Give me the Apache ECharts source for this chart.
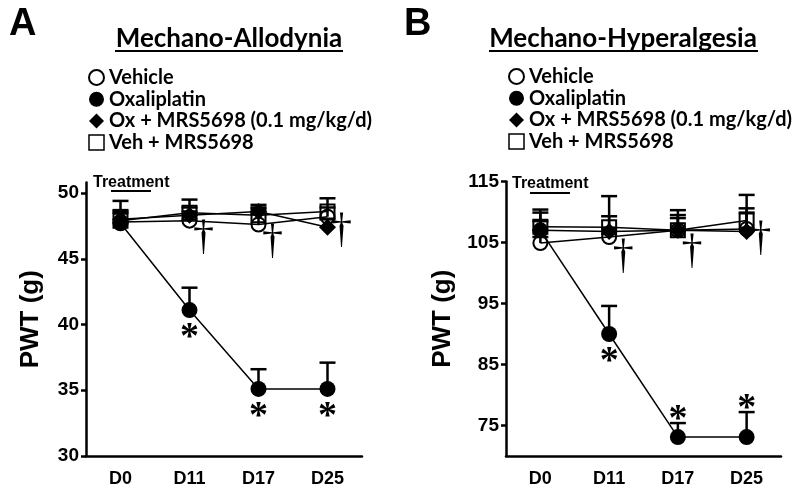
<!DOCTYPE html>
<html><head><meta charset="utf-8">
<script src="https://cdn.jsdelivr.net/npm/echarts@6/dist/echarts.min.js"></script>
<style>html,body{margin:0;padding:0;background:#fff}#c{width:800px;height:495px}</style>
</head><body><div id="c"></div>
<script>
// ---------- data ----------
const categories = ['D0', 'D11', 'D17', 'D25'];
const seriesNames = ['Vehicle', 'Oxaliplatin', 'Ox + MRS5698 (0.1 mg/kg/d)', 'Veh + MRS5698'];

// Panel A: Mechano-Allodynia (PWT, g)
const vehicleA      = [47.8, 47.9, 47.6, 48.2];
const oxaliplatinA  = [47.7, 41.1, 35.1, 35.1];
const oxMrsA        = [48.0, 48.3, 48.6, 47.4];
const vehMrsA       = [47.9, 48.5, 48.3, 48.6];
const vehicleAErr     = [0.8, 0.7, 0.8, 0.7];
const oxaliplatinAErr = [1.7, 1.7, 1.5, 2.0];
const oxMrsAErr       = [0.7, 0.6, 0.5, 0.6];
const vehMrsAErr      = [0.6, 1.0, 0.6, 1.0];
const yTicksA = [30, 35, 40, 45, 50];
const asteriskA = ['', 'below', 'below', 'below'];
const daggerA = [null, 46.7, 46.4, 47.3];

// Panel B: Mechano-Hyperalgesia (PWT, g)
const vehicleB      = [104.9, 105.9, 107.0, 107.2];
const oxaliplatinB  = [107.0, 90.0, 73.1, 73.1];
const oxMrsB        = [107.0, 106.8, 107.0, 106.8];
const vehMrsB       = [107.6, 107.5, 107.0, 108.6];
const vehicleBErr     = [1.0, 1.5, 2.0, 3.4];
const oxaliplatinBErr = [3.4, 4.6, 2.3, 4.1];
const oxMrsBErr       = [1.5, 2.5, 2.5, 3.1];
const vehMrsBErr      = [2.3, 5.1, 3.3, 4.2];
const yTicksB = [75, 85, 95, 105, 115];
const asteriskB = ['', 'below', 'above', 'above'];
const daggerB = [null, 103.0, 103.8, 105.9];

// ---------- styling ----------
const AX = '"Liberation Sans", Arial, sans-serif';
const CAL = 'Lato, "Open Sans", sans-serif';
const symbolStyles = [
  { symbol: 'circle', size: 14, itemStyle: { color: 'rgba(255,255,255,0)', borderColor: '#000', borderWidth: 2 } },
  { symbol: 'circle', size: 16, itemStyle: { color: '#000', borderColor: '#000', borderWidth: 0 } },
  { symbol: 'diamond', size: 17, itemStyle: { color: '#000', borderColor: '#000', borderWidth: 0 } },
  { symbol: 'rect', size: 14, itemStyle: { color: 'rgba(255,255,255,0)', borderColor: '#000', borderWidth: 2 } }
];
const legendStyles = [
  { icon: 'circle', itemStyle: { color: '#fff', borderColor: '#000', borderWidth: 2 } },
  { icon: 'circle', itemStyle: { color: '#000', borderColor: '#000', borderWidth: 0 } },
  { icon: 'diamond', itemStyle: { color: '#000', borderColor: '#000', borderWidth: 0 } },
  { icon: 'rect', itemStyle: { color: '#fff', borderColor: '#000', borderWidth: 1.5 } }
];

const panels = [
  { values: [vehicleA, oxaliplatinA, oxMrsA, vehMrsA], errs: [vehicleAErr, oxaliplatinAErr, oxMrsAErr, vehMrsAErr],
    asterisk: asteriskA, dagger: daggerA },
  { values: [vehicleB, oxaliplatinB, oxMrsB, vehMrsB], errs: [vehicleBErr, oxaliplatinBErr, oxMrsBErr, vehMrsBErr],
    asterisk: asteriskB, dagger: daggerB }
];

function errRender(params, api) {
  const x = api.value(0), y = api.value(1), e = api.value(2);
  const p0 = api.coord([x, y]);
  const p1 = api.coord([x, y + e]);
  const st = { stroke: '#000', lineWidth: 2.5 };
  return { type: 'group', children: [
    { type: 'line', shape: { x1: p0[0], y1: p0[1], x2: p1[0], y2: p1[1] }, style: st },
    { type: 'line', shape: { x1: p1[0] - 8, y1: p1[1], x2: p1[0] + 8, y2: p1[1] }, style: st }
  ]};
}
function asteriskRender(params, api) {
  const x = api.value(0), y = api.value(1), e = api.value(2), dir = api.value(3);
  let px, py;
  if (dir > 0) { const p = api.coord([x, y]); px = p[0]; py = p[1] + 19; }
  else { const p = api.coord([x, y + e]); px = p[0]; py = p[1] - 12; }
  return { type: 'text', x: px, y: py + 9,
    style: { text: '*', font: 'bold 38px "Liberation Serif"', fill: '#000', align: 'center', verticalAlign: 'middle' } };
}
function daggerRender(params, api) {
  const p = api.coord([api.value(0), api.value(1)]);
  return { type: 'text', x: p[0] + 14, y: p[1] + 2,
    style: { text: '†', font: '42px "Liberation Serif"', fill: '#000', align: 'center', verticalAlign: 'middle' } };
}

const series = [];
panels.forEach((pn, pi) => {
  pn.values.forEach((vals, si) => {
    series.push({ type: 'custom', xAxisIndex: pi, yAxisIndex: pi, renderItem: errRender, z: 2, silent: true,
      data: vals.map((v, i) => [i, v, pn.errs[si][i]]) });
  });
  pn.values.forEach((vals, si) => {
    const s = symbolStyles[si];
    series.push({ type: 'line', name: seriesNames[si], xAxisIndex: pi, yAxisIndex: pi, data: vals,
      symbol: s.symbol, symbolSize: s.size, showAllSymbol: true, itemStyle: s.itemStyle,
      lineStyle: { color: '#000', width: 1.5 }, z: 3, silent: true, animation: false });
  });
  const ox = pn.values[1], oxe = pn.errs[1];
  series.push({ type: 'custom', xAxisIndex: pi, yAxisIndex: pi, renderItem: asteriskRender, z: 4, silent: true,
    data: pn.asterisk.map((a, i) => a ? [i, ox[i], oxe[i], a === 'below' ? 1 : -1] : null).filter(d => d) });
  series.push({ type: 'custom', xAxisIndex: pi, yAxisIndex: pi, renderItem: daggerRender, z: 4, silent: true,
    data: pn.dagger.map((d, i) => d === null ? null : [i, d]).filter(d => d) });
});

function xAxisCfg(gi) {
  return { gridIndex: gi, type: 'category', data: categories, boundaryGap: true,
    axisLine: { lineStyle: { color: '#000', width: 2.5 } },
    axisTick: { alignWithLabel: true, length: 5, lineStyle: { color: '#000', width: 2.5 } },
    axisLabel: { color: '#000', fontFamily: AX, fontWeight: 'bold', fontSize: 18, margin: 14 },
    splitLine: { show: false } };
}
function yAxisCfg(gi, min, max, ticks, gap) {
  return { gridIndex: gi, type: 'value', min: min, max: max,
    axisLine: { show: true, lineStyle: { color: '#000', width: 2.5 } },
    axisTick: { show: true, length: 5, customValues: ticks, lineStyle: { color: '#000', width: 2.5 } },
    axisLabel: { customValues: ticks, color: '#000', fontFamily: AX, fontWeight: 'bold', fontSize: 19, margin: 7 },
    splitLine: { show: false },
    name: 'PWT (g)', nameLocation: 'middle', nameGap: gap,
    nameTextStyle: { color: '#000', fontFamily: AX, fontWeight: 'bold', fontSize: 26 } };
}
function legendCfg(left, top) {
  return { left: left, top: top, orient: 'vertical', itemWidth: 15, itemHeight: 15, itemGap: 1.7, selectedMode: false,
    padding: 0, textStyle: { color: '#000', fontFamily: CAL, fontWeight: 'bold', fontSize: 20 },
    data: seriesNames.map((n, i) => Object.assign({ name: n }, legendStyles[i])) };
}

const chart = echarts.init(document.getElementById('c'), null, { renderer: 'canvas' });
chart.setOption({
  animation: false,
  backgroundColor: '#fff',
  title: [
    { text: 'A', left: 9, top: 6, padding: 0, textStyle: { fontFamily: AX, fontWeight: 'bold', fontSize: 38, color: '#000' } },
    { text: 'B', left: 404, top: 6, padding: 0, textStyle: { fontFamily: AX, fontWeight: 'bold', fontSize: 38, color: '#000' } },
    { text: 'Mechano-Allodynia', left: 229, top: 26, textAlign: 'center', padding: 0,
      textStyle: { fontFamily: CAL, fontWeight: 'bold', fontSize: 26, color: '#000' } },
    { text: 'Mechano-Hyperalgesia', left: 623, top: 26, textAlign: 'center', padding: 0,
      textStyle: { fontFamily: CAL, fontWeight: 'bold', fontSize: 26, color: '#000' } }
  ],
  legend: [legendCfg(88, 67.5), legendCfg(508, 66.5)],
  grid: [
    { left: 86, top: 182.5, width: 276, height: 273.5 },
    { left: 506, top: 181.5, width: 275, height: 274.5 }
  ],
  xAxis: [xAxisCfg(0), xAxisCfg(1)],
  yAxis: [yAxisCfg(0, 30, 50.8, yTicksA, 42), yAxisCfg(1, 70, 115, yTicksB, 50)],
  graphic: [
    { type: 'line', shape: { x1: 115, y1: 51, x2: 343, y2: 51 }, style: { stroke: '#000', lineWidth: 2 } },
    { type: 'line', shape: { x1: 489, y1: 51, x2: 758, y2: 51 }, style: { stroke: '#000', lineWidth: 2 } },
    { type: 'text', x: 93, y: 183, style: { text: 'Treatment', font: 'bold 16px "Liberation Sans"', fill: '#000', verticalAlign: 'middle' } },
    { type: 'line', shape: { x1: 111, y1: 191, x2: 151, y2: 191 }, style: { stroke: '#000', lineWidth: 2 } },
    { type: 'text', x: 512, y: 184, style: { text: 'Treatment', font: 'bold 16px "Liberation Sans"', fill: '#000', verticalAlign: 'middle' } },
    { type: 'line', shape: { x1: 530, y1: 193, x2: 570, y2: 193 }, style: { stroke: '#000', lineWidth: 2 } }
  ],
  series: series
});
</script></body></html>
